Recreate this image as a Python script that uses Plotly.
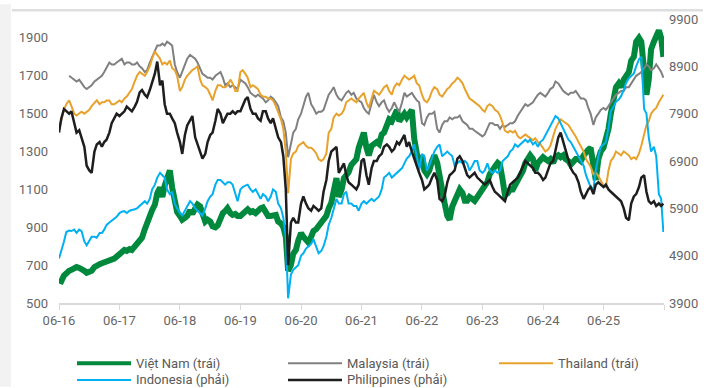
import pandas as pd
import plotly.graph_objects as go

# Twice-monthly closes (1st and 15th) from June 2016, plus the last session of May 2026
half_months = pd.date_range("2016-06-01", "2026-05-15", freq="SMS")
dates = list(half_months) + [pd.Timestamp("2026-05-28")]

vietnam = [
    620, 615, 645, 660, 670, 675, 680, 690, 685, 680, 670, 660, 665, 670, 690, 700, 705, 710, 715, 715, 720, 725, 735, 745,
    760, 770, 780, 775, 785, 780, 800, 810, 830, 845, 890, 930, 960, 990, 1020, 1080, 1110, 1060, 1120, 1160, 1200, 1110, 1040, 980,
    960, 940, 950, 960, 990, 970, 1000, 1020, 1010, 960, 930, 940, 930, 905, 900, 910, 950, 975, 985, 1000, 975, 965, 970, 960,
    960, 975, 985, 995, 980, 985, 975, 990, 1000, 1005, 985, 960, 960, 965, 965, 930, 920, 900, 850, 670, 700, 760, 780, 830,
    870, 850, 830, 820, 850, 880, 890, 905, 920, 930, 960, 1000, 1030, 1090, 1160, 1060, 1100, 1160, 1170, 1190, 1230, 1250, 1260, 1320,
    1380, 1400, 1320, 1280, 1330, 1340, 1350, 1340, 1390, 1400, 1450, 1470, 1460, 1490, 1520, 1460, 1490, 1500, 1480, 1500, 1520, 1370, 1280, 1220,
    1280, 1200, 1180, 1200, 1250, 1280, 1240, 1160, 1100, 1030, 960, 940, 1010, 1040, 1060, 1100, 1080, 1040, 1040, 1060, 1050, 1040, 1060, 1080,
    1110, 1120, 1140, 1180, 1210, 1220, 1240, 1230, 1150, 1070, 1080, 1100, 1100, 1120, 1150, 1170, 1200, 1240, 1270, 1280, 1260, 1200, 1240, 1260,
    1270, 1260, 1250, 1260, 1240, 1270, 1280, 1270, 1280, 1260, 1250, 1230, 1250, 1260, 1260, 1250, 1280, 1300, 1310, 1320, 1220, 1150, 1260, 1300,
    1320, 1360, 1420, 1500, 1600, 1640, 1660, 1640, 1680, 1700, 1720, 1780, 1800, 1880, 1900, 1880, 1760, 1600, 1680, 1840, 1880, 1910, 1940, 1900,
    1800,
]

malaysia = [
    None, None, None, None, 1700, 1690, 1680, 1670, 1680, 1660, 1640, 1630, 1640, 1650, 1670, 1680, 1690, 1700, 1720, 1740, 1770, 1760, 1760, 1770,
    1780, 1790, 1760, 1770, 1770, 1760, 1760, 1770, 1750, 1740, 1720, 1730, 1770, 1800, 1830, 1860, 1860, 1870, 1860, 1880, 1870, 1860, 1760, 1720,
    1690, 1720, 1760, 1790, 1810, 1800, 1790, 1770, 1740, 1710, 1700, 1690, 1690, 1680, 1700, 1710, 1720, 1690, 1650, 1660, 1640, 1650, 1640, 1630,
    1680, 1670, 1660, 1640, 1610, 1600, 1590, 1600, 1590, 1580, 1560, 1570, 1590, 1580, 1560, 1540, 1480, 1460, 1400, 1270, 1340, 1400, 1420, 1470,
    1500, 1540, 1590, 1610, 1550, 1530, 1500, 1510, 1510, 1520, 1560, 1600, 1620, 1640, 1600, 1580, 1570, 1590, 1610, 1620, 1600, 1610, 1580, 1570,
    1560, 1530, 1510, 1500, 1560, 1600, 1560, 1540, 1560, 1570, 1530, 1510, 1530, 1560, 1530, 1510, 1560, 1610, 1590, 1600, 1610, 1590, 1570, 1560,
    1450, 1440, 1480, 1500, 1500, 1510, 1420, 1400, 1440, 1460, 1460, 1480, 1470, 1480, 1480, 1490, 1460, 1450, 1440, 1420, 1420, 1410, 1400, 1390,
    1380, 1390, 1420, 1450, 1450, 1440, 1440, 1420, 1440, 1430, 1440, 1450, 1450, 1460, 1490, 1510, 1530, 1550, 1540, 1550, 1560, 1580, 1600, 1610,
    1600, 1590, 1610, 1630, 1640, 1670, 1660, 1640, 1620, 1610, 1600, 1610, 1610, 1620, 1600, 1580, 1580, 1570, 1530, 1500, 1440, 1480, 1500, 1520,
    1530, 1520, 1540, 1560, 1580, 1600, 1610, 1620, 1620, 1640, 1640, 1660, 1680, 1700, 1710, 1720, 1740, 1760, 1750, 1730, 1740, 1760, 1740, 1720,
    1690,
]

thailand = [
    1420, 1470, 1520, 1550, 1570, 1540, 1500, 1490, 1500, 1510, 1500, 1510, 1520, 1540, 1560, 1570, 1550, 1560, 1560, 1570, 1570, 1550, 1550, 1560,
    1570, 1560, 1580, 1590, 1610, 1630, 1670, 1700, 1720, 1710, 1700, 1720, 1750, 1790, 1830, 1810, 1790, 1760, 1770, 1760, 1780, 1740, 1730, 1700,
    1620, 1640, 1680, 1700, 1720, 1730, 1740, 1750, 1680, 1650, 1640, 1630, 1600, 1570, 1620, 1650, 1650, 1640, 1640, 1650, 1680, 1660, 1620, 1620,
    1720, 1730, 1710, 1690, 1640, 1650, 1640, 1630, 1600, 1590, 1590, 1580, 1580, 1570, 1540, 1510, 1470, 1420, 1300, 1080, 1260, 1290, 1300, 1330,
    1340, 1350, 1330, 1320, 1320, 1310, 1290, 1260, 1250, 1260, 1290, 1400, 1420, 1480, 1500, 1490, 1500, 1520, 1560, 1570, 1580, 1570, 1560, 1580,
    1600, 1610, 1560, 1530, 1580, 1620, 1610, 1600, 1620, 1640, 1650, 1620, 1600, 1640, 1660, 1650, 1680, 1700, 1690, 1680, 1690, 1700, 1660, 1650,
    1600, 1570, 1560, 1580, 1620, 1640, 1630, 1600, 1590, 1610, 1630, 1640, 1660, 1670, 1690, 1680, 1660, 1630, 1600, 1580, 1570, 1560, 1550, 1540,
    1520, 1510, 1540, 1550, 1540, 1520, 1510, 1490, 1450, 1410, 1400, 1410, 1400, 1410, 1380, 1370, 1380, 1390, 1380, 1370, 1360, 1370, 1350, 1340,
    1320, 1300, 1310, 1330, 1380, 1420, 1450, 1470, 1460, 1450, 1440, 1420, 1400, 1380, 1350, 1330, 1300, 1260, 1240, 1220, 1180, 1190, 1170, 1150,
    1120, 1110, 1200, 1250, 1270, 1300, 1290, 1280, 1300, 1290, 1280, 1260, 1270, 1260, 1290, 1330, 1400, 1440, 1460, 1500, 1520, 1530, 1560, 1580,
    1600,
]

indonesia = [
    4840, 5000, 5200, 5400, 5430, 5420, 5450, 5380, 5450, 5420, 5200, 5120, 5230, 5300, 5300, 5280, 5380, 5380, 5450, 5550, 5600, 5640, 5700, 5720,
    5800, 5830, 5840, 5800, 5850, 5860, 5880, 5900, 5950, 6000, 6050, 6000, 6100, 6300, 6400, 6550, 6650, 6600, 6550, 6300, 6200, 6250, 6000, 5900,
    5800, 5750, 5850, 5950, 6050, 6000, 5900, 5850, 5800, 5750, 5900, 6050, 6150, 6200, 6400, 6500, 6500, 6450, 6400, 6450, 6450, 6400, 6200, 6050,
    6300, 6350, 6380, 6400, 6300, 6250, 6300, 6200, 6100, 6200, 6150, 6050, 6150, 6300, 6250, 6000, 5900, 5700, 5300, 4000, 4500, 4600, 4650, 4700,
    4900, 4950, 5050, 5100, 5150, 5250, 5100, 4950, 5000, 5100, 5300, 5550, 5700, 5900, 6100, 6000, 6000, 6200, 6250, 6000, 6000, 5950, 5950, 5850,
    6000, 6050, 6000, 6050, 6100, 6050, 6100, 6150, 6300, 6550, 6600, 6650, 6550, 6600, 6650, 6700, 6750, 6850, 6950, 7000, 7100, 7250, 7000, 6700,
    7050, 7000, 6700, 6800, 6950, 7100, 7200, 7250, 7000, 7050, 7100, 7050, 7000, 6800, 6850, 6900, 6850, 6900, 6850, 6700, 6800, 6900, 6900, 6700,
    6650, 6700, 6850, 6700, 6650, 6700, 6650, 6700, 6900, 6950, 7000, 7100, 7150, 7250, 7200, 7250, 7300, 7350, 7300, 7350, 7250, 7300, 7200, 7300,
    7350, 7450, 7550, 7650, 7750, 7850, 7800, 7700, 7600, 7500, 7350, 7300, 7200, 7100, 7000, 6900, 6800, 6600, 6450, 6350, 6300, 6700, 7000, 7200,
    7250, 7300, 7600, 7950, 8050, 8150, 8200, 8270, 8400, 8550, 8650, 8700, 8750, 8900, 9050, 9100, 8000, 7900, 7400, 7100, 7200, 7000, 6200, 6100,
    5400,
]

philippines = [
    7500, 7800, 8000, 7950, 7900, 7950, 7700, 7500, 7550, 7400, 7200, 6800, 6700, 6650, 7100, 7250, 7300, 7200, 7300, 7350, 7500, 7700, 7800, 7900,
    7850, 7900, 7950, 8050, 8000, 7950, 8050, 8150, 8350, 8400, 8300, 8250, 8400, 8550, 8750, 9000, 8500, 8600, 8100, 7900, 7900, 7800, 7700, 7500,
    7300, 7050, 7450, 7650, 7750, 7850, 7400, 7250, 7100, 6950, 7050, 7300, 7450, 7500, 7750, 8000, 7900, 7700, 7800, 7900, 7900, 7950, 7900, 7950,
    7950, 8050, 8200, 8250, 8000, 7900, 7900, 7800, 7750, 7950, 7950, 7800, 7700, 7800, 7600, 7400, 7300, 7000, 6300, 4700, 5600, 5700, 5600, 5600,
    6000, 6150, 6000, 5900, 5850, 5950, 5900, 5850, 5900, 6250, 6500, 6900, 7100, 7150, 7200, 6650, 6750, 6850, 6600, 6450, 6400, 6350, 6300, 6400,
    6900, 6950, 6600, 6400, 6750, 6900, 6900, 7000, 7050, 7200, 7250, 7200, 7100, 7150, 7300, 7250, 7350, 7450, 7200, 7300, 7100, 6950, 6800, 6650,
    6500, 6300, 6350, 6400, 6550, 6650, 6500, 6100, 6050, 6150, 6450, 6600, 6650, 6700, 6950, 7000, 6900, 6750, 6600, 6550, 6600, 6650, 6550, 6500,
    6450, 6400, 6450, 6500, 6350, 6250, 6200, 6150, 6100, 6050, 6250, 6400, 6450, 6500, 6550, 6650, 6800, 6900, 6850, 6800, 6750, 6650, 6650, 6600,
    6500, 6550, 6700, 6850, 6900, 7100, 7400, 7500, 7300, 7150, 6900, 6750, 6650, 6600, 6450, 6250, 6100, 6200, 6300, 6350, 6200, 6400, 6450, 6400,
    6350, 6400, 6300, 6250, 6200, 6150, 6100, 6050, 5900, 5700, 5650, 6000, 6150, 6200, 6350, 6550, 6600, 6250, 6050, 6000, 6050, 5950, 6000, 5950,
    6000,
]

series_names = ["Việt Nam (trái)", "Malaysia (trái)", "Thailand (trái)",
                "Indonesia (phải)", "Philippines (phải)"]
series_values = [vietnam, malaysia, thailand, indonesia, philippines]
series_axis = ["y", "y", "y", "y2", "y2"]
for vals in series_values:
    assert len(vals) == len(dates)

left_ticks = [500, 700, 900, 1100, 1300, 1500, 1700, 1900]
right_ticks = [3900, 4900, 5900, 6900, 7900, 8900, 9900]
x_tick_dates = ["2016-06-01", "2017-06-01", "2018-06-01", "2019-06-01",
                "2020-06-01", "2021-06-01", "2022-06-01", "2023-06-01",
                "2024-06-01", "2025-06-01", "2026-06-01"]
x_tick_text = ["06-16", "06-17", "06-18", "06-19", "06-20", "06-21",
               "06-22", "06-23", "06-24", "06-25", ""]

# styling
colors = ["#00893D", "#808080", "#E8A22C", "#00B0F0", "#1E1E1E"]
widths = [6, 2, 2, 2, 2.5]
legend_widths = [4, 2, 2, 2, 2.5]
FONT = "Roboto, Arial, sans-serif"
TICK_COLOR = "#666666"

W, H = 710, 388
ML, MR, MT, MB = 59, 46, 15, 85
PW, PH = W - ML - MR, H - MT - MB


def px_x(x):
    return (x - ML) / PW


def px_y(y):
    return (H - MB - y) / PH


fig = go.Figure()
for name, vals, ax, col, lw in zip(series_names, series_values, series_axis, colors, widths):
    fig.add_trace(go.Scatter(
        x=dates, y=vals, name=name, yaxis=ax, mode="lines",
        line=dict(color=col, width=lw), showlegend=False,
        connectgaps=False,
    ))

shapes = [
    # light strip on the left edge
    dict(type="rect", xref="paper", yref="paper",
         x0=px_x(0), x1=px_x(11), y0=px_y(H), y1=px_y(0),
         fillcolor="#F2F2F2", line=dict(width=0), layer="below"),
    # thin rule along the top
    dict(type="line", xref="paper", yref="paper",
         x0=px_x(12), x1=px_x(703), y0=px_y(6), y1=px_y(6),
         line=dict(color="#DEDEDE", width=2.5)),
]

annotations = []
# legend: two rows, three columns
legend_slots = [(77, 364), (288, 364), (499, 364), (77, 381), (288, 381)]
for (lx, ly), name, col, lw in zip(legend_slots, series_names, colors, legend_widths):
    shapes.append(dict(type="line", xref="paper", yref="paper",
                       x0=px_x(lx), x1=px_x(lx + 54), y0=px_y(ly), y1=px_y(ly),
                       line=dict(color=col, width=lw)))
    annotations.append(dict(xref="paper", yref="paper", x=px_x(lx + 57), y=px_y(ly),
                            xanchor="left", yanchor="middle", showarrow=False,
                            text=name, font=dict(family=FONT, size=13, color="#595959")))

fig.update_layout(
    width=W, height=H,
    margin=dict(l=ML, r=MR, t=MT, b=MB, pad=0),
    paper_bgcolor="white", plot_bgcolor="white",
    showlegend=False,
    font=dict(family=FONT, size=13, color=TICK_COLOR),
    xaxis=dict(
        type="date", range=["2016-06-01", "2026-06-01"],
        tickvals=x_tick_dates, ticktext=x_tick_text,
        ticks="outside", ticklen=5, tickcolor="#D9D9D9", tickwidth=1,
        showline=True, linecolor="#D9D9D9", linewidth=1.5,
        showgrid=False, zeroline=False,
        tickfont=dict(family=FONT, size=13, color=TICK_COLOR),
    ),
    yaxis=dict(
        range=[500, 2000], tickvals=left_ticks,
        ticktext=[str(v) for v in left_ticks],
        showgrid=False, zeroline=False, showline=False, ticks="",
        ticklabelstandoff=10,
        tickfont=dict(family=FONT, size=13, color=TICK_COLOR),
    ),
    yaxis2=dict(
        range=[3900, 9900], tickvals=right_ticks,
        ticktext=[str(v) for v in right_ticks],
        overlaying="y", side="right",
        showgrid=False, zeroline=False, showline=False, ticks="",
        ticklabelstandoff=4,
        tickfont=dict(family=FONT, size=13, color=TICK_COLOR),
    ),
    shapes=shapes,
    annotations=annotations,
)

fig.write_html("out.html")
